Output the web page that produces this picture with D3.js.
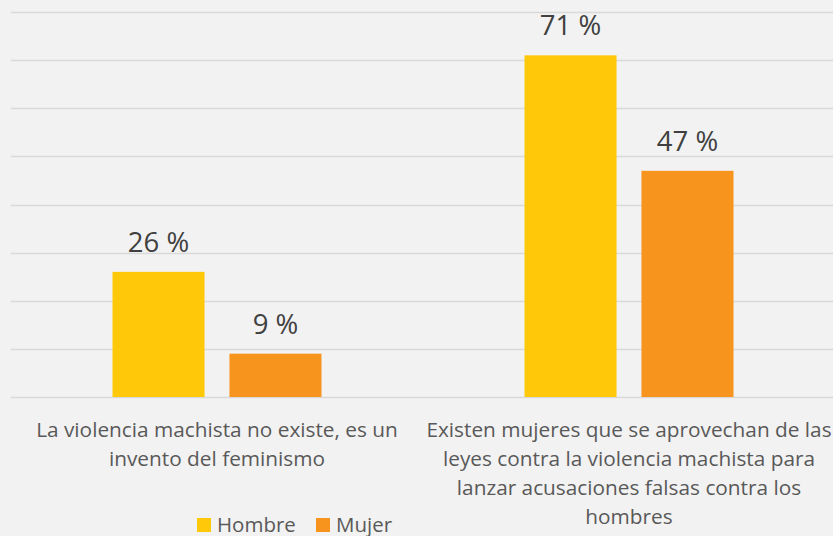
<!DOCTYPE html>
<html>
<head>
<meta charset="utf-8">
<script src="https://cdn.jsdelivr.net/npm/d3@7"></script>
<style>
  html, body { margin: 0; padding: 0; background: #f2f2f2; }
  svg { display: block; font-family: "Open Sans", "Noto Sans", sans-serif; }
</style>
</head>
<body>
<div id="chart"></div>
<script>
// data
const categories = [
  "La violencia machista no existe, es un invento del feminismo",
  "Existen mujeres que se aprovechan de las leyes contra la violencia machista para lanzar acusaciones falsas contra los hombres"
];
const categoryLines = [
  ["La violencia machista no existe, es un", "invento del feminismo"],
  ["Existen mujeres que se aprovechan de las", "leyes contra la violencia machista para", "lanzar acusaciones falsas contra los", "hombres"]
];
const seriesNames = ["Hombre", "Mujer"];
const hombre = [26, 71];
const mujer = [9, 47];
const gridTicks = [0, 10, 20, 30, 40, 50, 60, 70, 80];

const colors = { Hombre: "#ffc90a", Mujer: "#f7941e" };

const W = 833, H = 536;
const svg = d3.select("#chart").append("svg")
  .attr("width", W).attr("height", H);

svg.append("rect").attr("width", W).attr("height", H).attr("fill", "#f2f2f2");

const x0 = d3.scaleBand().domain(categories).range([11, 835]).paddingInner(0).paddingOuter(0);
const x1 = d3.scaleBand().domain(seriesNames).range([101.5, 310.5]).paddingInner(0.213).paddingOuter(0);
const y = d3.scaleLinear().domain([0, 80]).range([397, 12]);

// gridlines
svg.append("g").selectAll("line")
  .data(gridTicks)
  .enter().append("line")
  .attr("x1", 11).attr("x2", W)
  .attr("y1", d => Math.round(y(d)) + 0.5)
  .attr("y2", d => Math.round(y(d)) + 0.5)
  .attr("stroke", "#d9d9d9")
  .attr("stroke-width", 1.5);

const rows = categories.map((c, i) => ({
  cat: c,
  values: [{ s: "Hombre", v: hombre[i] }, { s: "Mujer", v: mujer[i] }]
}));

const groups = svg.selectAll(".grp")
  .data(rows)
  .enter().append("g")
  .attr("class", "grp")
  .attr("transform", d => `translate(${x0(d.cat)},0)`);

groups.selectAll("rect")
  .data(d => d.values)
  .enter().append("rect")
  .attr("x", d => x1(d.s))
  .attr("width", x1.bandwidth())
  .attr("y", d => y(d.v))
  .attr("height", d => y(0) - y(d.v))
  .attr("fill", d => colors[d.s]);

groups.selectAll(".val")
  .data(d => d.values)
  .enter().append("text")
  .attr("class", "val")
  .attr("x", d => x1(d.s) + x1.bandwidth() / 2)
  .attr("y", d => y(d.v) - 20)
  .attr("text-anchor", "middle")
  .attr("font-size", 27.5)
  .attr("fill", "#404040")
  .text(d => d.v + " %");

// category labels
categories.forEach((c, i) => {
  const t = svg.append("text")
    .attr("text-anchor", "middle")
    .attr("font-size", 20.8)
    .attr("fill", "#595959");
  categoryLines[i].forEach((ln, j) => {
    t.append("tspan")
      .attr("x", x0(c) + x0.bandwidth() / 2)
      .attr("y", 437 + j * 29)
      .text(ln);
  });
});

// legend
const legendX = [197, 316];
const lg = svg.append("g").selectAll("g")
  .data(seriesNames)
  .enter().append("g")
  .attr("transform", (d, i) => `translate(${legendX[i]},518)`);
lg.append("rect").attr("width", 14).attr("height", 14).attr("fill", d => colors[d]);
lg.append("text")
  .attr("x", 20).attr("y", 13.5)
  .attr("font-size", 20.5)
  .attr("fill", "#595959")
  .text(d => d);
</script>
</body>
</html>
